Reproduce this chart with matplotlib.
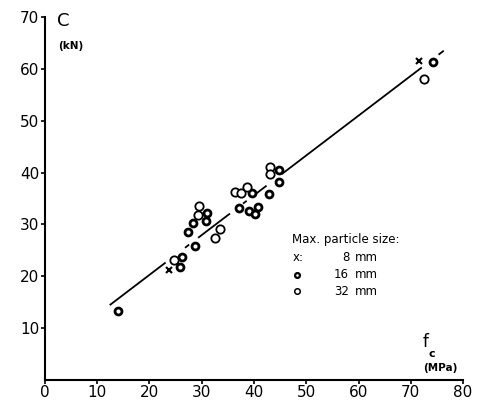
import numpy as np
import matplotlib.pyplot as plt

# Max. particle size 8 mm
x8 = [23.7, 71.6]
y8 = [21.2, 61.6]

# Max. particle size 16 mm
x16 = [14.0, 25.8, 26.2, 28.8, 27.4, 28.4, 30.8, 31.1, 39.6, 37.2, 39.0, 40.1,
       40.7, 42.9, 44.7, 44.7, 74.3]
y16 = [13.2, 21.7, 23.8, 25.8, 28.6, 30.2, 30.6, 32.2, 36.0, 33.2, 32.5, 32.0,
       33.3, 35.8, 40.5, 38.1, 61.4]

# Max. particle size 32 mm
x32 = [24.7, 29.3, 29.5, 33.4, 32.6, 36.4, 37.6, 38.6, 43.1, 43.1, 72.5]
y32 = [23.2, 31.9, 33.6, 29.2, 27.4, 36.2, 36.1, 37.3, 41.1, 39.7, 58.0]

# regression line C = a * fc + b, drawn in pieces (gaps as in the original)
slope = 0.768
intercept = 4.9
solid_parts = [(12.4, 23.1), (26.8, 27.6), (29.3, 35.4), (37.9, 38.6),
               (40.4, 42.4), (45.3, 72.1), (75.3, 76.3)]

xticks = [0, 10, 20, 30, 40, 50, 60, 70, 80]
yticks = [10, 20, 30, 40, 50, 60, 70]


def main():
    fig = plt.figure(figsize=(4.88, 4.05), dpi=100)
    ax = fig.add_axes([0.092, 0.062, 0.857, 0.896])

    for x0, x1 in solid_parts:
        xs = np.array([x0, x1])
        ax.plot(xs, slope * xs + intercept, color="black", lw=1.3,
                solid_capstyle="butt")

    ax.plot(x8, y8, "x", color="black", ms=5, mew=1.5)
    ax.plot(x16, y16, "o", ms=5, mfc="white", mec="black", mew=2.0)
    ax.plot(x32, y32, "o", ms=6, mfc="white", mec="black", mew=1.3)

    ax.set_xlim(0, 80)
    ax.set_ylim(0, 70)
    ax.set_xticks(xticks)
    ax.set_yticks(yticks)
    for s in ["top", "right"]:
        ax.spines[s].set_visible(False)
    for s in ["left", "bottom"]:
        ax.spines[s].set_linewidth(1.5)
    ax.tick_params(axis="both", labelsize=11, width=1.2, length=3,
                   direction="out", pad=1)

    # axis titles
    ax.text(2.3, 69.2, "C", fontsize=13, va="center", ha="left")
    ax.text(2.6, 64.4, "(kN)", fontsize=7.5, va="center", ha="left",
            fontweight="bold")
    ax.text(72.3, 7.4, "f", fontsize=12, va="center", ha="left")
    ax.text(73.4, 5.0, "c", fontsize=8, va="center", ha="left",
            fontweight="bold")
    ax.text(72.3, 2.2, "(MPa)", fontsize=7.5, va="center", ha="left",
            fontweight="bold")

    # legend drawn by hand
    ax.text(47.3, 27.0, "Max. particle size:", fontsize=8.5, va="center")
    rows = [(23.6, "x:", "8"), (20.3, "", "16"), (17.1, "", "32")]
    for y, sym, num in rows:
        if sym:
            ax.text(47.3, y, sym, fontsize=8.5, va="center")
        ax.text(58.2, y, num, fontsize=8.5, va="center", ha="right")
        ax.text(59.3, y, "mm", fontsize=8.5, va="center")
    ax.plot([48.2], [20.3], "o", ms=3.5, mfc="white", mec="black", mew=1.6)
    ax.plot([48.2], [17.1], "o", ms=4, mfc="white", mec="black", mew=1.1)

    fig.savefig("out.png", dpi=100)


if __name__ == "__main__":
    main()
